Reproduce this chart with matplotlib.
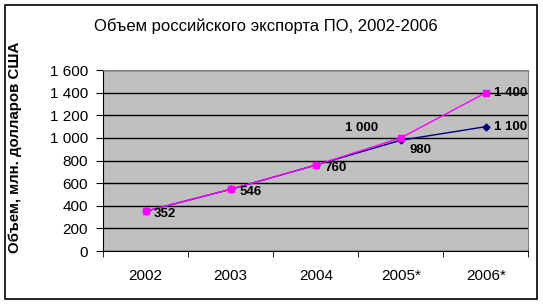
import matplotlib.pyplot as plt
from matplotlib.patches import Rectangle

plt.rcParams['font.family'] = ['Liberation Sans', 'DejaVu Sans']

# data
years = ['2002', '2003', '2004', '2005*', '2006*']
export_low = [352, 546, 760, 980, 1100]
export_high = [352, 546, 760, 1000, 1400]


def fmt(v):
    return f'{v:,}'.replace(',', ' ')


fig = plt.figure(figsize=(5.43, 3.05), dpi=100)
ax = fig.add_axes([0.19, 0.177, 0.783, 0.593])

# outer frame of the chart
fig.patches.append(Rectangle((5 / 543, 6 / 305), 532 / 543, 294 / 305,
                             transform=fig.transFigure, fill=False,
                             edgecolor='black', linewidth=1.2))

x = list(range(len(years)))
ax.plot(x, export_low, color='#000080', marker='D', markersize=3.5,
        linewidth=1, zorder=3)
ax.plot(x, export_high, color='#FF00FF', marker='s', markersize=5,
        linewidth=1, zorder=4)

ax.set_facecolor('#C0C0C0')
ax.set_xlim(-0.5, len(years) - 0.5)
ax.set_ylim(0, 1600)
ax.set_yticks(range(0, 1601, 200))
ax.set_yticklabels([fmt(v) for v in range(0, 1601, 200)], fontsize=11)
ax.yaxis.grid(True, color='black', linewidth=1)
ax.set_axisbelow(True)

ax.set_xticks(x)
ax.set_xticklabels(years, fontsize=11)
ax.tick_params(axis='x', length=0, pad=13)
ax.set_xticks([i - 0.5 for i in range(len(years) + 1)], minor=True)
ax.tick_params(axis='x', which='minor', length=4, direction='out', color='black')
ax.tick_params(axis='y', length=5, direction='out', pad=6)

for side in ['top', 'right']:
    ax.spines[side].set_color('#808080')
for side in ['left', 'bottom']:
    ax.spines[side].set_color('black')

# data labels
lab = dict(fontsize=9.5, fontweight='bold', zorder=5)
for i in range(3):
    ax.annotate(fmt(export_high[i]), (x[i], export_high[i]), xytext=(6, -2),
                textcoords='offset points', ha='left', va='center', **lab)
ax.annotate(fmt(export_high[3]), (x[3], export_high[3]), xytext=(-28, 7),
            textcoords='offset points', ha='center', va='center', **lab)
ax.annotate(fmt(export_low[3]), (x[3], export_low[3]), xytext=(14, -7),
            textcoords='offset points', ha='center', va='center', **lab)
ax.annotate(fmt(export_high[4]), (x[4], export_high[4]), xytext=(6, 0),
            textcoords='offset points', ha='left', va='center', **lab)
ax.annotate(fmt(export_low[4]), (x[4], export_low[4]), xytext=(6, 0),
            textcoords='offset points', ha='left', va='center', **lab)

fig.text(0.489, 0.915, 'Объем российского экспорта ПО, 2002-2006',
         ha='center', va='center', fontsize=12)
fig.text(0.027, 0.518, 'Объем, млн. долларов США', rotation=90,
         ha='center', va='center', fontsize=10.8, fontweight='bold')

fig.savefig('out.png', dpi=100)
